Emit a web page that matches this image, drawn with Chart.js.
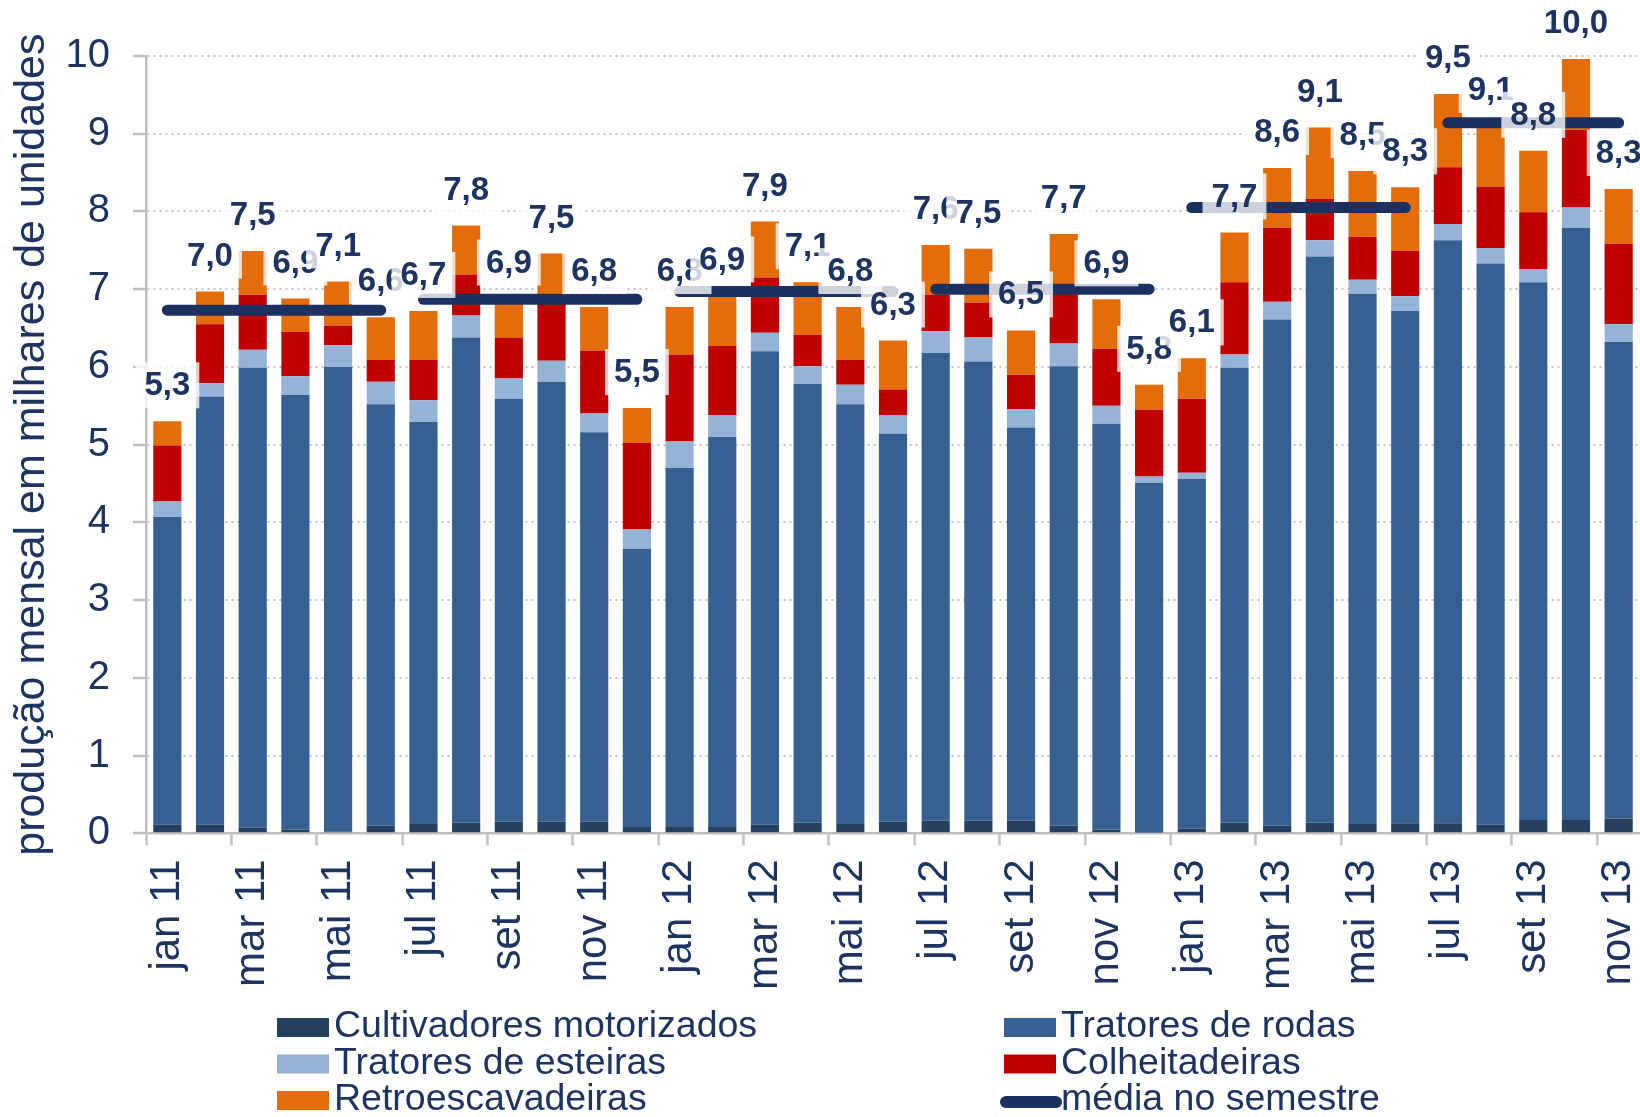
<!DOCTYPE html>
<html lang="pt-BR">
<head>
<meta charset="utf-8">
<title>Produção mensal de máquinas agrícolas</title>
<script src="https://cdn.jsdelivr.net/npm/chart.js@4.4.1/dist/chart.umd.min.js"></script>
<style>
  html, body { margin: 0; padding: 0; background: #fff; }
  #wrap { width: 1640px; height: 1117px; position: relative; }
</style>
</head>
<body>
<div id="wrap"><canvas id="chart"></canvas></div>
<script>
const months = [
  "jan 11", "fev 11", "mar 11", "abr 11", "mai 11", "jun 11",
  "jul 11", "ago 11", "set 11", "out 11", "nov 11", "dez 11",
  "jan 12", "fev 12", "mar 12", "abr 12", "mai 12", "jun 12",
  "jul 12", "ago 12", "set 12", "out 12", "nov 12", "dez 12",
  "jan 13", "fev 13", "mar 13", "abr 13", "mai 13", "jun 13",
  "jul 13", "ago 13", "set 13", "out 13", "nov 13"
];

// milhares de unidades
const cultivadores = [
  0.11, 0.11, 0.07, 0.05, 0.02, 0.10, 0.12, 0.14, 0.15, 0.15, 0.15, 0.08,
  0.08, 0.08, 0.11, 0.14, 0.12, 0.15, 0.16, 0.16, 0.16, 0.10, 0.05, 0.01,
  0.06, 0.14, 0.10, 0.14, 0.12, 0.13, 0.13, 0.11, 0.17, 0.17, 0.19
];
const tratoresRodas = [
  3.96, 5.51, 5.92, 5.59, 5.98, 5.42, 5.17, 6.24, 5.44, 5.66, 5.01, 3.58,
  4.62, 5.02, 6.09, 5.64, 5.40, 4.99, 6.02, 5.91, 5.06, 5.91, 5.22, 4.50,
  4.50, 5.85, 6.51, 7.28, 6.82, 6.59, 7.50, 7.22, 6.92, 7.62, 6.13
];
const tratoresEsteiras = [
  0.20, 0.17, 0.23, 0.24, 0.28, 0.29, 0.28, 0.28, 0.26, 0.27, 0.24, 0.25,
  0.34, 0.28, 0.24, 0.23, 0.25, 0.24, 0.28, 0.31, 0.24, 0.29, 0.23, 0.08,
  0.08, 0.17, 0.23, 0.21, 0.18, 0.19, 0.21, 0.20, 0.17, 0.26, 0.23
];
const colheitadeiras = [
  0.72, 0.76, 0.71, 0.57, 0.25, 0.28, 0.52, 0.53, 0.53, 0.74, 0.81, 1.11,
  1.12, 0.89, 0.71, 0.40, 0.32, 0.33, 0.47, 0.45, 0.44, 0.65, 0.73, 0.86,
  0.95, 0.93, 0.95, 0.53, 0.55, 0.58, 0.73, 0.79, 0.73, 1.00, 1.03
];
const retroescavadeiras = [
  0.31, 0.42, 0.56, 0.43, 0.57, 0.55, 0.63, 0.63, 0.50, 0.64, 0.56, 0.45,
  0.61, 0.65, 0.72, 0.68, 0.68, 0.63, 0.64, 0.69, 0.57, 0.76, 0.64, 0.32,
  0.52, 0.64, 0.77, 0.92, 0.85, 0.82, 0.94, 0.78, 0.79, 0.91, 0.71
];
// rótulos de total mostrados acima das barras
const totals = [
  5.3, 7.0, 7.5, 6.9, 7.1, 6.6, 6.7, 7.8, 6.9, 7.5, 6.8, 5.5,
  6.8, 6.9, 7.9, 7.1, 6.8, 6.3, 7.6, 7.5, 6.5, 7.7, 6.9, 5.8,
  6.1, 7.7, 8.6, 9.1, 8.5, 8.3, 9.5, 9.1, 8.8, 10.0, 8.3
];
// média no semestre
const semMeans = [6.73, 6.87, 6.97, 7.00, 8.05, 9.14];
const semFirst = [0, 6, 12, 18, 24, 30];
const semLast = [5, 11, 17, 23, 29, 34];

const seriesNames = [
  "Cultivadores motorizados", "Tratores de rodas", "Tratores de esteiras",
  "Colheitadeiras", "Retroescavadeiras"
];
const seriesValues = [cultivadores, tratoresRodas, tratoresEsteiras, colheitadeiras, retroescavadeiras];
const seriesColors = ["#254061", "#376092", "#95b3d7", "#c00000", "#e46c0a"];

const NAVY = "#1d3461";
const LINE = "#1c3160";
const AXIS = "#bfbfbf";
const FONT = "'Liberation Sans', Arial, sans-serif";

Chart.defaults.font.family = FONT;

const barDatasets = seriesNames.map((name, k) => ({
  type: "bar",
  label: name,
  data: seriesValues[k],
  backgroundColor: seriesColors[k],
  stack: "total",
  order: 1,
  barPercentage: 0.66,
  categoryPercentage: 1.0,
}));

const lineDatasets = semMeans.map((v, k) => ({
  type: "line",
  label: "média no semestre",
  data: months.map((m, i) => (i >= semFirst[k] && i <= semLast[k] ? v : null)),
  borderColor: LINE,
  borderWidth: 11,
  borderCapStyle: "round",
  pointRadius: 0,
  fill: false,
  stack: "media" + k,
  order: 0,
}));

// rótulos de total com fundo branco semitransparente
const totalLabels = {
  id: "totalLabels",
  afterDatasetsDraw(chart) {
    const ctx = chart.ctx;
    const topMeta = chart.getDatasetMeta(4);
    ctx.save();
    ctx.font = "bold 33px " + FONT;
    ctx.textAlign = "center";
    ctx.textBaseline = "middle";
    totals.forEach((t, i) => {
      const bar = topMeta.data[i];
      const txt = t.toFixed(1).replace(".", ",");
      const w = ctx.measureText(txt).width + 18;
      const h = 46;
      const cx = bar.x;
      const cy = bar.y - 36;
      ctx.fillStyle = "rgba(255,255,255,0.78)";
      ctx.fillRect(cx - w / 2, cy - h / 2, w, h);
      ctx.fillStyle = NAVY;
      ctx.fillText(txt, cx, cy + 1);
    });
    ctx.restore();
  },
};

// legenda em duas colunas
const gridLegend = {
  id: "gridLegend",
  afterDraw(chart) {
    const ctx = chart.ctx;
    const cols = [277, 1004];
    const rows = [1037, 1073.5, 1110];
    const items = chart.data.datasets.slice(0, 6);
    ctx.save();
    ctx.font = "37.5px " + FONT;
    ctx.textAlign = "left";
    ctx.textBaseline = "alphabetic";
    items.forEach((ds, k) => {
      const x = cols[k % 2];
      const y = rows[Math.floor(k / 2)];
      if (ds.type === "line") {
        ctx.strokeStyle = ds.borderColor;
        ctx.lineWidth = 12;
        ctx.lineCap = "round";
        ctx.beginPath();
        ctx.moveTo(x + 2, y - 8);
        ctx.lineTo(x + 52, y - 8);
        ctx.stroke();
      } else {
        ctx.fillStyle = ds.backgroundColor;
        ctx.fillRect(x, y - 19, 52, 19);
      }
      ctx.fillStyle = NAVY;
      ctx.fillText(ds.label, x + 57, y);
    });
    ctx.restore();
  },
};

new Chart(document.getElementById("chart"), {
  type: "bar",
  data: {
    labels: months,
    datasets: [...barDatasets, ...lineDatasets],
  },
  options: {
    responsive: true,
    maintainAspectRatio: false,
    animation: false,
    layout: { padding: { top: 56, right: 0, bottom: 0, left: 0 } },
    plugins: {
      legend: { display: false },
      tooltip: { enabled: false },
    },
    scales: {
      x: {
        stacked: true,
        offset: true,
        grid: {
          display: true,
          offset: true,
          drawOnChartArea: false,
          drawTicks: true,
          tickLength: 12,
          tickWidth: 2.5,
          tickColor: (c) => (c.index % 2 === 0 ? AXIS : "rgba(0,0,0,0)"),
        },
        border: { display: true, color: AXIS, width: 2.5 },
        ticks: {
          autoSkip: false,
          maxRotation: 90,
          minRotation: 90,
          padding: 14,
          color: NAVY,
          font: { size: 42 },
          callback: function (v, i) {
            return i % 2 === 0 ? this.getLabelForValue(v) : "";
          },
        },
        afterFit(scale) {
          scale.height = 283.7;
          scale.paddingLeft = 0;
          scale.paddingRight = 0;
        },
      },
      y: {
        stacked: true,
        min: 0,
        max: 10,
        ticks: { stepSize: 1, color: NAVY, font: { size: 40 }, padding: 23 },
        grid: {
          color: "#c4c4c4",
          lineWidth: 2,
          tickLength: 13,
          tickColor: AXIS,
          tickWidth: 2.5,
        },
        border: { display: true, color: AXIS, width: 2.5, dash: [2, 4] },
        title: {
          display: true,
          text: "produção mensal em milhares de unidades",
          color: NAVY,
          font: { size: 43 },
          padding: { top: 6, bottom: 0 },
        },
        afterFit(scale) {
          scale.width = 146;
        },
      },
    },
  },
  plugins: [totalLabels, gridLegend],
});
</script>
</body>
</html>
